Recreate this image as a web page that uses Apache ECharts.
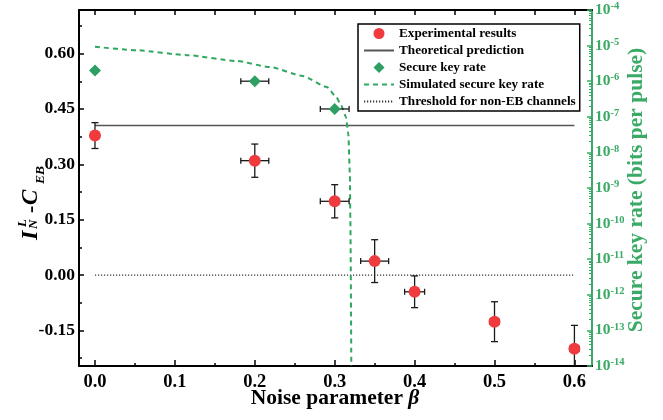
<!DOCTYPE html>
<html>
<head>
<meta charset="utf-8">
<script src="https://cdn.jsdelivr.net/npm/echarts@6/dist/echarts.min.js"></script>
<style>
  html, body { margin: 0; padding: 0; background: #fff; }
  #main { width: 663px; height: 420px; }
</style>
</head>
<body>
<div id="main"></div>
<script>
// experimental points: noise beta, I-C value, and their error bars
var noiseExp    = [0, 0.2, 0.3, 0.35, 0.4, 0.5, 0.6];
var valueExp    = [0.378, 0.310, 0.200, 0.038, -0.045, -0.126, -0.199];
var noiseErrExp = [0, 0.0175, 0.018, 0.0175, 0.0125, 0.006, 0.006];
var valueErrExp = [0.035, 0.045, 0.045, 0.058, 0.043, 0.054, 0.063];

// measured secure key rate (bits per pulse)
var noiseKey    = [0, 0.2, 0.3];
var rateKey     = [2.0e-6, 1.0e-6, 1.66e-7];
var noiseErrKey = [0, 0.0175, 0.018];

// simulated secure key rate
var noiseSim = [0, 0.052, 0.115, 0.177, 0.219, 0.260, 0.290, 0.302, 0.308, 0.314, 0.317, 0.319, 0.3196, 0.3208];
var rateSim  = [9.3e-6, 7.4e-6, 5.4e-6, 3.7e-6, 2.5e-6, 1.4e-6, 6.9e-7, 3.6e-7, 2.1e-7, 1.0e-7, 3.4e-8, 2.5e-9, 1.2e-10, 1e-14];

var theoryValue = 0.405;
var thresholdValue = 0;
var lineRange = [0, 0.6];

var xTicks      = [0, 0.1, 0.2, 0.3, 0.4, 0.5, 0.6];
var xMinorTicks = [0.05, 0.15, 0.25, 0.35, 0.45, 0.55];
var yTicks      = [-0.15, 0, 0.15, 0.30, 0.45, 0.60];
var yMinorTicks = [-0.225, -0.075, 0.075, 0.225, 0.375, 0.525, 0.675];
var rateDecades = [-14, -13, -12, -11, -10, -9, -8, -7, -6, -5, -4];

var FONT = "'Liberation Serif', 'Times New Roman', serif";
var GREEN = '#3aaa66';

// log minor ticks (2..9 inside each decade), in exponent space
var logMinor = [];
rateDecades.slice(0, -1).forEach(function (d) {
    for (var k = 2; k <= 9; k++) logMinor.push(d + Math.log10(k));
});

function zip() {
    var cols = arguments;
    return cols[0].map(function (v, i) {
        return Array.prototype.map.call(cols, function (c) { return c[i]; });
    });
}

function errorBars(params, api) {
    var x = api.value(0), y = api.value(1), dx = api.value(2), dy = api.value(3);
    var st = { stroke: '#1a1a1a', lineWidth: 1.3 };
    var kids = [];
    function seg(a, b) {
        kids.push({ type: 'line', shape: { x1: a[0], y1: a[1], x2: b[0], y2: b[1] }, style: st });
    }
    if (dx > 0) {
        var l = api.coord([x - dx, y]), r = api.coord([x + dx, y]);
        seg(l, r);
        seg([l[0], l[1] - 3], [l[0], l[1] + 3]);
        seg([r[0], r[1] - 3], [r[0], r[1] + 3]);
    }
    if (dy > 0) {
        var t = api.coord([x, y + dy]), b = api.coord([x, y - dy]);
        seg(t, b);
        seg([t[0] - 3.5, t[1]], [t[0] + 3.5, t[1]]);
        seg([b[0] - 3.5, b[1]], [b[0] + 3.5, b[1]]);
    }
    return { type: 'group', children: kids };
}

var chart = echarts.init(document.getElementById('main'));

var xMin = -0.02, xMax = 0.622;
var yMin = -0.246, yMax = 0.718;

function plainAxis(extra) {
    var a = {
        type: 'value',
        axisLine: { show: false, onZero: false },
        axisTick: { show: false },
        axisLabel: { show: false },
        splitLine: { show: false }
    };
    for (var k in extra) a[k] = extra[k];
    return a;
}

chart.setOption({
    animation: false,
    backgroundColor: '#fff',
    grid: { left: 79, right: 71, top: 10, bottom: 54, outerBoundsMode: 'none' },
    xAxis: [
        plainAxis({
            min: xMin, max: xMax, position: 'bottom',
            axisLine: { show: true, onZero: false, lineStyle: { color: '#000', width: 2 } },
            axisTick: { show: true, inside: true, length: 6, customValues: xTicks, lineStyle: { color: '#000', width: 1.5 } },
            axisLabel: {
                show: true, customValues: xTicks, margin: 7,
                formatter: function (v) { return v.toFixed(1); },
                fontFamily: FONT, fontWeight: 'bold', fontSize: 18.5, color: '#000'
            }
        }),
        plainAxis({
            min: xMin, max: xMax, position: 'bottom',
            axisTick: { show: true, inside: true, length: 3, customValues: xMinorTicks, lineStyle: { color: '#000', width: 1.5 } }
        }),
        plainAxis({
            min: xMin, max: xMax, position: 'top',
            axisLine: { show: true, onZero: false, lineStyle: { color: '#000', width: 2 } },
            axisTick: { show: true, inside: true, length: 5, customValues: xTicks.concat(xMinorTicks), lineStyle: { color: '#000', width: 1.5 } }
        })
    ],
    yAxis: [
        plainAxis({
            min: yMin, max: yMax, position: 'left',
            axisLine: { show: true, onZero: false, lineStyle: { color: '#000', width: 2 } },
            axisTick: { show: true, inside: true, length: 5, customValues: yTicks, lineStyle: { color: '#000', width: 1.5 } },
            axisLabel: {
                show: true, customValues: yTicks, margin: 4,
                formatter: function (v) { return v.toFixed(2); },
                fontFamily: FONT, fontWeight: 'bold', fontSize: 17.5, color: '#000'
            }
        }),
        plainAxis({
            min: yMin, max: yMax, position: 'left',
            axisTick: { show: true, inside: true, length: 3, customValues: yMinorTicks, lineStyle: { color: '#000', width: 1.5 } }
        }),
        {
            type: 'log', logBase: 10, min: 1e-14, max: 1e-4, position: 'right', show: false,
            splitLine: { show: false }
        },
        plainAxis({
            min: -14, max: -4, interval: 1, position: 'right',
            axisLine: { show: true, onZero: false, lineStyle: { color: GREEN, width: 2 } },
            axisTick: { show: true, inside: true, length: 5, lineStyle: { color: GREEN, width: 1.5 } },
            axisLabel: {
                show: true, margin: 3,
                formatter: function (v) { return '{b|10}{s|' + Math.round(v) + '}'; },
                rich: {
                    b: { fontFamily: FONT, fontWeight: 'bold', fontSize: 15.5, color: GREEN, lineHeight: 18 },
                    s: { fontFamily: FONT, fontWeight: 'bold', fontSize: 10.5, color: GREEN, lineHeight: 18, verticalAlign: 'top', padding: [0, 0, 6, 0] }
                }
            }
        }),
        plainAxis({
            min: -14, max: -4, position: 'right',
            axisTick: { show: true, inside: true, length: 3, customValues: logMinor, lineStyle: { color: GREEN, width: 1 } }
        })
    ],
    legend: {
        orient: 'vertical',
        left: 358, top: 24,
        padding: [3, 4, 3, 5],
        itemGap: 4,
        itemWidth: 30, itemHeight: 11,
        symbolKeepAspect: true,
        borderColor: '#000', borderWidth: 1.5,
        backgroundColor: '#fff',
        textStyle: { fontFamily: FONT, fontWeight: 'bold', fontSize: 13.2, lineHeight: 13, color: '#000' },
        data: [
            { name: 'Experimental results', icon: 'circle' },
            { name: 'Theoretical prediction', itemStyle: { opacity: 0 } },
            { name: 'Secure key rate', icon: 'path://M5,0L10,5L5,10L0,5Z' },
            { name: 'Simulated secure key rate', itemStyle: { opacity: 0 } },
            { name: 'Threshold for non-EB channels', itemStyle: { opacity: 0 } }
        ]
    },
    graphic: [
        {
            type: 'group', x: 38, y: 240, rotation: Math.PI / 2,
            children: [
                { type: 'text', x: 0, y: -7, style: { text: 'I', fontFamily: FONT, fontStyle: 'italic', fontWeight: 'bold', fontSize: 24, verticalAlign: 'middle', fill: '#000' } },
                { type: 'text', x: 13, y: -15, style: { text: 'L', fontFamily: FONT, fontStyle: 'italic', fontWeight: 'bold', fontSize: 13, verticalAlign: 'middle', fill: '#000' } },
                { type: 'text', x: 11, y: -4, style: { text: 'N', fontFamily: FONT, fontStyle: 'italic', fontWeight: 'bold', fontSize: 13, verticalAlign: 'middle', fill: '#000' } },
                { type: 'text', x: 27, y: -7, style: { text: '-', fontFamily: FONT, fontWeight: 'bold', fontSize: 22, verticalAlign: 'middle', fill: '#000' } },
                { type: 'text', x: 35, y: -7, style: { text: 'C', fontFamily: FONT, fontStyle: 'italic', fontWeight: 'bold', fontSize: 23, verticalAlign: 'middle', fill: '#000' } },
                { type: 'text', x: 56, y: 3, style: { text: 'EB', fontFamily: FONT, fontStyle: 'italic', fontWeight: 'bold', fontSize: 13.5, verticalAlign: 'middle', fill: '#000' } }
            ]
        },
        {
            type: 'text', x: 335, y: 398,
            style: {
                text: '{n|Noise parameter }{b|β}', align: 'center', verticalAlign: 'middle',
                rich: {
                    n: { fontFamily: FONT, fontWeight: 'bold', fontSize: 21.5, fill: '#000' },
                    b: { fontFamily: FONT, fontWeight: 'bold', fontStyle: 'italic', fontSize: 21.5, fill: '#000' }
                }
            }
        },
        {
            type: 'text', x: 636, y: 190, rotation: Math.PI / 2,
            style: {
                text: 'Secure key rate (bits per pulse)', align: 'center', verticalAlign: 'middle',
                fontFamily: FONT, fontWeight: 'bold', fontSize: 21.5, fill: GREEN
            }
        }
    ],
    series: [
        {
            name: 'Theoretical prediction', type: 'line', xAxisIndex: 0, yAxisIndex: 0,
            data: [[lineRange[0], theoryValue], [lineRange[1], theoryValue]],
            symbol: 'none', color: '#555',
            lineStyle: { color: '#555', width: 1.5 }, z: 2
        },
        {
            name: 'Threshold for non-EB channels', type: 'line', xAxisIndex: 0, yAxisIndex: 0,
            data: [[lineRange[0], thresholdValue], [lineRange[1], thresholdValue]],
            symbol: 'none', color: '#333',
            lineStyle: { color: '#333', width: 1.2, type: [1.2, 1.8] }, z: 2
        },
        {
            name: 'Simulated secure key rate', type: 'line', xAxisIndex: 0, yAxisIndex: 2,
            data: zip(noiseSim, rateSim),
            symbol: 'none', color: '#2fa85f', smooth: 0.2, smoothMonotone: 'x',
            lineStyle: { color: '#2fa85f', width: 2, type: [5, 4] }, z: 2
        },
        {
            name: 'exp-errors', type: 'custom', xAxisIndex: 0, yAxisIndex: 0,
            data: zip(noiseExp, valueExp, noiseErrExp, valueErrExp),
            renderItem: errorBars, clip: true, z: 3, silent: true
        },
        {
            name: 'key-errors', type: 'custom', xAxisIndex: 0, yAxisIndex: 2,
            data: zip(noiseKey, rateKey, noiseErrKey, [0, 0, 0]),
            renderItem: errorBars, clip: true, z: 3, silent: true
        },
        {
            name: 'Experimental results', type: 'scatter', xAxisIndex: 0, yAxisIndex: 0,
            data: zip(noiseExp, valueExp),
            symbol: 'circle', symbolSize: 12, color: '#ef3b3d',
            itemStyle: { opacity: 1 }, z: 4
        },
        {
            name: 'Secure key rate', type: 'scatter', xAxisIndex: 0, yAxisIndex: 2,
            data: zip(noiseKey, rateKey),
            symbol: 'diamond', symbolSize: 12, color: '#2e9e62',
            itemStyle: { opacity: 1 }, z: 4
        }
    ]
});
</script>
</body>
</html>
